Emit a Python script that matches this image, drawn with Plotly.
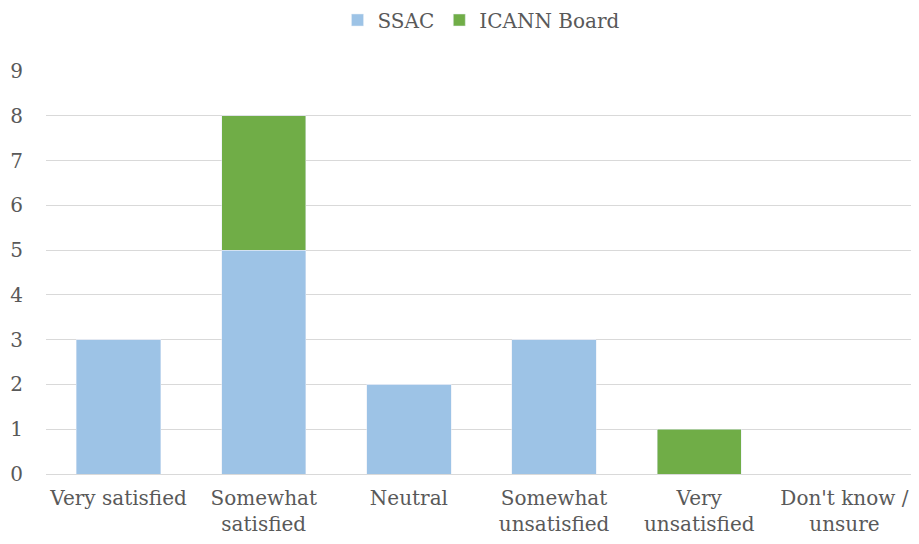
import plotly.graph_objects as go

categories = ["Very satisfied", "Somewhat<br>satisfied", "Neutral", "Somewhat<br>unsatisfied", "Very<br>unsatisfied", "Don't know /<br>unsure"]
ssac = [3, 5, 2, 3, 0, 0]
icann_board = [0, 3, 0, 0, 1, 0]
y_ticks = list(range(0, 10))

font = dict(family="DejaVu Serif", size=20, color="#595959")

fig = go.Figure()
fig.add_trace(go.Bar(name="SSAC", x=categories, y=ssac, marker_color="#9DC3E6"))
fig.add_trace(go.Bar(name="ICANN Board", x=categories, y=icann_board, marker_color="#70AD47"))

fig.update_layout(
    barmode="stack",
    bargap=0.42,
    width=911, height=536,
    margin=dict(l=38, r=2, t=63, b=70, autoexpand=False),
    paper_bgcolor="white", plot_bgcolor="white",
    font=font,
    showlegend=True,
    legend=dict(orientation="h", x=0.5, xanchor="center", yref="container", y=1 - 12 / 536, yanchor="middle",
                font=font, itemwidth=30, traceorder="normal"),
)
fig.update_yaxes(range=[0, 9], tickvals=y_ticks, showgrid=True, gridcolor="#D9D9D9", gridwidth=1,
                 zeroline=False, showline=False, ticklabelstandoff=22)
fig.update_xaxes(showline=True, linecolor="#D9D9D9", linewidth=1, ticks="", ticklabelstandoff=6)

fig.write_html("out.html")
